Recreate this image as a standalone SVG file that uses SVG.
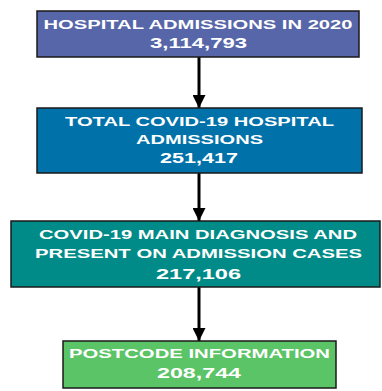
<svg xmlns="http://www.w3.org/2000/svg" width="382" height="391" viewBox="0 0 382 391">
  <style>
    .box { stroke: #1a1a1a; stroke-width: 1.5; }
    .lbl { font-family: "Liberation Sans", Arial, sans-serif; font-weight: bold; font-size: 12.8px; fill: #ffffff; text-anchor: middle; }
    .num { font-size: 15px; }
    .edge { stroke: #000000; stroke-width: 3; fill: none; }
  </style>
  <defs>
    <marker id="head" viewBox="0 0 10 10" refX="10" refY="5" markerUnits="userSpaceOnUse" markerWidth="13" markerHeight="13" orient="auto">
      <path d="M0,0 L10,5 L0,10 Z" fill="#000000"/>
    </marker>
  </defs>

  <g id="connectors">
    <line class="edge" x1="199" y1="57" x2="199" y2="108" marker-end="url(#head)"/>
    <line class="edge" x1="199" y1="173" x2="199" y2="221" marker-end="url(#head)"/>
    <line class="edge" x1="199" y1="287" x2="199" y2="341" marker-end="url(#head)"/>
  </g>

  <!-- labels use a wide face: glyphs stretched 1.5x horizontally -->
  <g id="admissions-2020">
    <rect class="box" x="37" y="11" width="322" height="46" fill="#5766a8"/>
    <text class="lbl" transform="matrix(1.5 0 0 1 198 29)" textLength="206" lengthAdjust="spacingAndGlyphs">HOSPITAL ADMISSIONS IN 2020</text>
    <text class="lbl num" transform="matrix(1.5 0 0 1 198.5 48)" textLength="64.7" lengthAdjust="spacingAndGlyphs">3,114,793</text>
  </g>

  <g id="covid-admissions">
    <rect class="box" x="37" y="108" width="325" height="65" fill="#0172a9"/>
    <text class="lbl" transform="matrix(1.5 0 0 1 199.5 126)" textLength="179.3" lengthAdjust="spacingAndGlyphs">TOTAL COVID-19 HOSPITAL</text>
    <text class="lbl" transform="matrix(1.5 0 0 1 199.5 144)" textLength="84.7" lengthAdjust="spacingAndGlyphs">ADMISSIONS</text>
    <text class="lbl num" transform="matrix(1.5 0 0 1 199 163)" textLength="52" lengthAdjust="spacingAndGlyphs">251,417</text>
  </g>

  <g id="main-diagnosis">
    <rect class="box" x="11" y="221" width="369" height="66" fill="#018b88"/>
    <text class="lbl" transform="matrix(1.5 0 0 1 198 239)" textLength="212" lengthAdjust="spacingAndGlyphs">COVID-19 MAIN DIAGNOSIS AND</text>
    <text class="lbl" transform="matrix(1.5 0 0 1 198.5 258)" textLength="218" lengthAdjust="spacingAndGlyphs">PRESENT ON ADMISSION CASES</text>
    <text class="lbl num" transform="matrix(1.5 0 0 1 198.5 279)" textLength="56.7" lengthAdjust="spacingAndGlyphs">217,106</text>
  </g>

  <g id="postcode">
    <rect class="box" x="63" y="341" width="273" height="47" fill="#5bc466"/>
    <text class="lbl" transform="matrix(1.5 0 0 1 199.5 358)" textLength="174" lengthAdjust="spacingAndGlyphs">POSTCODE INFORMATION</text>
    <text class="lbl num" transform="matrix(1.5 0 0 1 199 378)" textLength="56" lengthAdjust="spacingAndGlyphs">208,744</text>
  </g>
</svg>
